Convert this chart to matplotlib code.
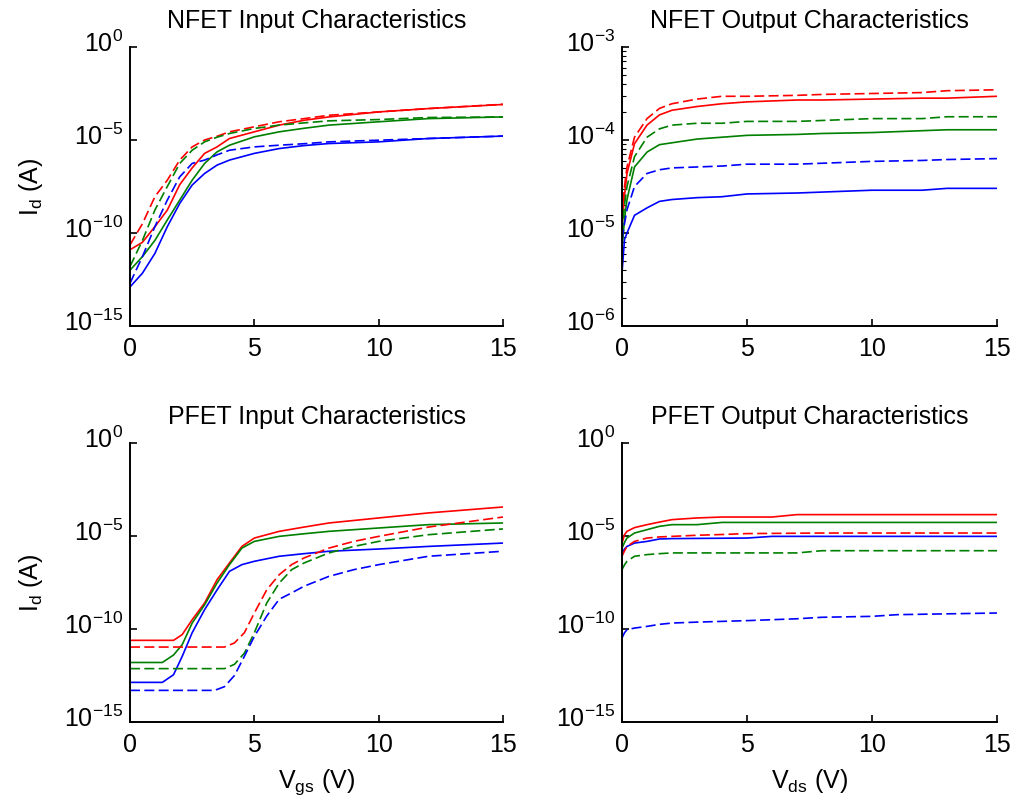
import numpy as np
import matplotlib
matplotlib.use("Agg")
import matplotlib.pyplot as plt
from matplotlib.transforms import ScaledTranslation

plt.rcParams["font.family"] = ["Liberation Sans", "DejaVu Sans"]
plt.rcParams["mathtext.fontset"] = "custom"
plt.rcParams["mathtext.rm"] = "Liberation Sans"
plt.rcParams["mathtext.it"] = "Liberation Sans:italic"
plt.rcParams["mathtext.default"] = "regular"
plt.rcParams["font.size"] = 18

RED, GREEN, BLUE = "#ff0000", "#008000", "#0000ff"

# ---- NFET input: Vgs (V) vs log10(Id / A)
nin_x = [0, 0.5, 1, 1.5, 2, 2.5, 3, 3.5, 4, 5, 6, 7, 8, 10, 12, 15]
nin_red = [-10.9, -10.5, -9.66, -8.77, -7.4, -6.5, -5.72, -5.37, -4.92, -4.56, -4.2, -3.94, -3.76, -3.49, -3.31, -3.09]
nin_red_d = [-10.64, -9.5, -8.05, -7.16, -6.08, -5.37, -5.0, -4.8, -4.56, -4.29, -4.02, -3.85, -3.67, -3.49, -3.31, -3.08]
nin_green = [-12.0, -11.27, -10.4, -9.3, -8.23, -7.16, -6.26, -5.64, -5.28, -4.83, -4.56, -4.37, -4.2, -4.02, -3.85, -3.76]
nin_green_d = [-11.8, -10.4, -8.77, -7.5, -6.26, -5.55, -5.1, -4.85, -4.65, -4.38, -4.2, -4.08, -3.97, -3.9, -3.79, -3.76]
nin_blue = [-12.9, -12.16, -11.1, -9.66, -8.41, -7.42, -6.8, -6.35, -6.08, -5.72, -5.46, -5.3, -5.19, -5.1, -4.92, -4.79]
nin_blue_d = [-12.7, -11.27, -9.66, -8.23, -6.98, -6.26, -6.08, -5.8, -5.55, -5.37, -5.28, -5.2, -5.1, -5.01, -4.92, -4.79]

# ---- NFET output: Vds (V) vs log10(Id / A)
nout_x = [0, 0.1, 0.2, 0.5, 1, 1.5, 2, 3, 4, 5, 7, 8, 10, 12, 13, 15]
nout_red = [-4.93, -4.6, -4.36, -4.04, -3.84, -3.73, -3.68, -3.64, -3.61, -3.59, -3.57, -3.57, -3.56, -3.55, -3.55, -3.53]
nout_red_d = [-4.82, -4.5, -4.29, -3.97, -3.77, -3.66, -3.61, -3.56, -3.53, -3.53, -3.52, -3.51, -3.5, -3.49, -3.47, -3.46]
nout_green = [-5.18, -4.85, -4.64, -4.29, -4.13, -4.05, -4.03, -3.99, -3.97, -3.95, -3.94, -3.93, -3.92, -3.9, -3.89, -3.89]
nout_green_d = [-5.0, -4.7, -4.5, -4.18, -3.97, -3.88, -3.84, -3.82, -3.82, -3.8, -3.8, -3.79, -3.77, -3.77, -3.75, -3.75]
nout_blue = [-5.43, -5.07, -5.0, -4.81, -4.73, -4.66, -4.64, -4.62, -4.61, -4.58, -4.57, -4.56, -4.54, -4.54, -4.52, -4.52]
nout_blue_d = [-5.07, -4.9, -4.75, -4.5, -4.36, -4.32, -4.3, -4.29, -4.28, -4.26, -4.26, -4.25, -4.23, -4.22, -4.21, -4.2]

# ---- PFET input
pin_x = [0, 1.3, 1.75, 2.1, 2.5, 3, 3.5, 4, 4.5, 5, 6, 7, 8, 10, 12, 15]
pin_red = [-10.61, -10.61, -10.61, -10.3, -9.5, -8.6, -7.35, -6.45, -5.56, -5.11, -4.75, -4.52, -4.3, -4.03, -3.76, -3.44]
pin_green = [-11.8, -11.8, -11.4, -10.84, -9.68, -8.7, -7.53, -6.54, -5.65, -5.29, -5.02, -4.88, -4.75, -4.57, -4.39, -4.3]
pin_blue = [-12.87, -12.87, -12.46, -11.47, -10.2, -8.96, -7.9, -6.9, -6.54, -6.36, -6.09, -5.95, -5.82, -5.7, -5.56, -5.38]
pin_xd = [0, 3.4, 3.8, 4.2, 4.6, 5, 5.5, 6, 6.5, 7, 8, 9, 10, 12, 15]
pin_red_d = [-10.97, -10.97, -10.97, -10.75, -10.2, -9.14, -7.89, -7.08, -6.54, -6.18, -5.65, -5.29, -5.02, -4.52, -3.98]
pin_green_d = [-12.13, -12.13, -12.13, -11.9, -11.3, -10.2, -8.6, -7.53, -6.81, -6.45, -5.91, -5.56, -5.29, -4.93, -4.62]
pin_blue_d = [-13.3, -13.3, -13.1, -12.5, -11.47, -10.4, -9.3, -8.4, -8.06, -7.7, -7.17, -6.81, -6.54, -6.09, -5.82]

# ---- PFET output
pout_x = [0, 0.1, 0.2, 0.5, 1, 1.5, 2, 3, 4, 5, 6, 7, 8, 10, 11, 15]
pout_red = [-5.38, -4.93, -4.75, -4.55, -4.39, -4.25, -4.12, -4.03, -3.98, -3.98, -3.98, -3.85, -3.85, -3.85, -3.85, -3.85]
pout_green = [-5.65, -5.35, -5.11, -4.84, -4.66, -4.48, -4.39, -4.39, -4.27, -4.27, -4.27, -4.27, -4.27, -4.27, -4.27, -4.27]
pout_red_d = [-6.09, -5.8, -5.56, -5.29, -5.11, -5.05, -5.02, -4.96, -4.92, -4.87, -4.86, -4.85, -4.84, -4.84, -4.84, -4.84]
pout_blue = [-5.91, -5.7, -5.56, -5.38, -5.29, -5.16, -5.14, -5.13, -5.12, -5.11, -5.02, -5.02, -5.02, -5.02, -5.02, -5.02]
pout_green_d = [-6.81, -6.55, -6.36, -6.09, -6.0, -5.95, -5.91, -5.91, -5.91, -5.91, -5.91, -5.91, -5.79, -5.79, -5.79, -5.79]
pout_blue_d = [-10.48, -10.2, -10.04, -9.95, -9.86, -9.75, -9.68, -9.63, -9.59, -9.55, -9.5, -9.45, -9.37, -9.32, -9.23, -9.14]

fig = plt.figure(figsize=(10.13, 8.05), dpi=100)
W, H = 1013.0, 805.0
lift = ScaledTranslation(0, 4 / 72, fig.dpi_scale_trans)


def make_axes(left, right, top, bottom):
    return fig.add_axes([left / W, 1 - bottom / H, (right - left) / W, (bottom - top) / H])


def style(ax, ylim, yticks, minor=False):
    ax.set_yscale("log")
    ax.set_xlim(0, 15)
    ax.set_ylim(*ylim)
    ax.set_xticks([0, 5, 10, 15])
    ax.set_yticks(yticks)
    if not minor:
        ax.yaxis.set_minor_locator(matplotlib.ticker.NullLocator())
    ax.spines["top"].set_visible(False)
    ax.spines["right"].set_visible(False)
    ax.spines["left"].set_linewidth(1.4)
    ax.spines["bottom"].set_linewidth(1.4)
    ax.tick_params(direction="in", length=5, width=1.2, labelsize=18)
    ax.tick_params(axis="x", pad=8)
    ax.tick_params(axis="y", pad=5)
    ax.tick_params(which="minor", direction="in", length=3, width=0.8)
    # MATLAB centres the mantissa "10" on the tick, not the whole label
    for lab in ax.get_yticklabels():
        lab.set_transform(lab.get_transform() + lift)


def curves(ax, x, ys, xd=None):
    solid, dashed = ys
    for y, c in zip(solid, [RED, GREEN, BLUE]):
        ax.plot(x, 10.0 ** np.array(y), color=c, lw=1.2)
    for y, c in zip(dashed, [RED, GREEN, BLUE]):
        ax.plot(x if xd is None else xd, 10.0 ** np.array(y), color=c, lw=1.2, ls="--", dashes=(6, 2.6))


big = [1e-15, 1e-10, 1e-5, 1e0]

ax1 = make_axes(130, 503, 47, 326)
curves(ax1, nin_x, ([nin_red, nin_green, nin_blue], [nin_red_d, nin_green_d, nin_blue_d]))
style(ax1, (1e-15, 1e0), big)
ax1.set_title("NFET Input Characteristics", fontsize=18, pad=14)
ax1.set_ylabel(r"$\mathrm{I_d}$ (A)", labelpad=14)

ax2 = make_axes(622, 997, 47, 326)
curves(ax2, nout_x, ([nout_red, nout_green, nout_blue], [nout_red_d, nout_green_d, nout_blue_d]))
style(ax2, (1e-6, 1e-3), [1e-6, 1e-5, 1e-4, 1e-3], minor=True)
ax2.set_title("NFET Output Characteristics", fontsize=18, pad=14)

ax3 = make_axes(130, 503, 443, 722)
curves(ax3, pin_x, ([pin_red, pin_green, pin_blue], [pin_red_d, pin_green_d, pin_blue_d]), xd=pin_xd)
style(ax3, (1e-15, 1e0), big)
ax3.set_title("PFET Input Characteristics", fontsize=18, pad=14)
ax3.set_ylabel(r"$\mathrm{I_d}$ (A)", labelpad=14)
ax3.set_xlabel(r"$\mathrm{V_{gs}}$ (V)", labelpad=7)

ax4 = make_axes(622, 997, 443, 722)
curves(ax4, pout_x, ([pout_red, pout_green, pout_blue], [pout_red_d, pout_green_d, pout_blue_d]))
style(ax4, (1e-15, 1e0), big)
ax4.set_title("PFET Output Characteristics", fontsize=18, pad=14)
ax4.set_xlabel(r"$\mathrm{V_{ds}}$ (V)", labelpad=7)

fig.savefig("out.png", dpi=100, facecolor="white")
